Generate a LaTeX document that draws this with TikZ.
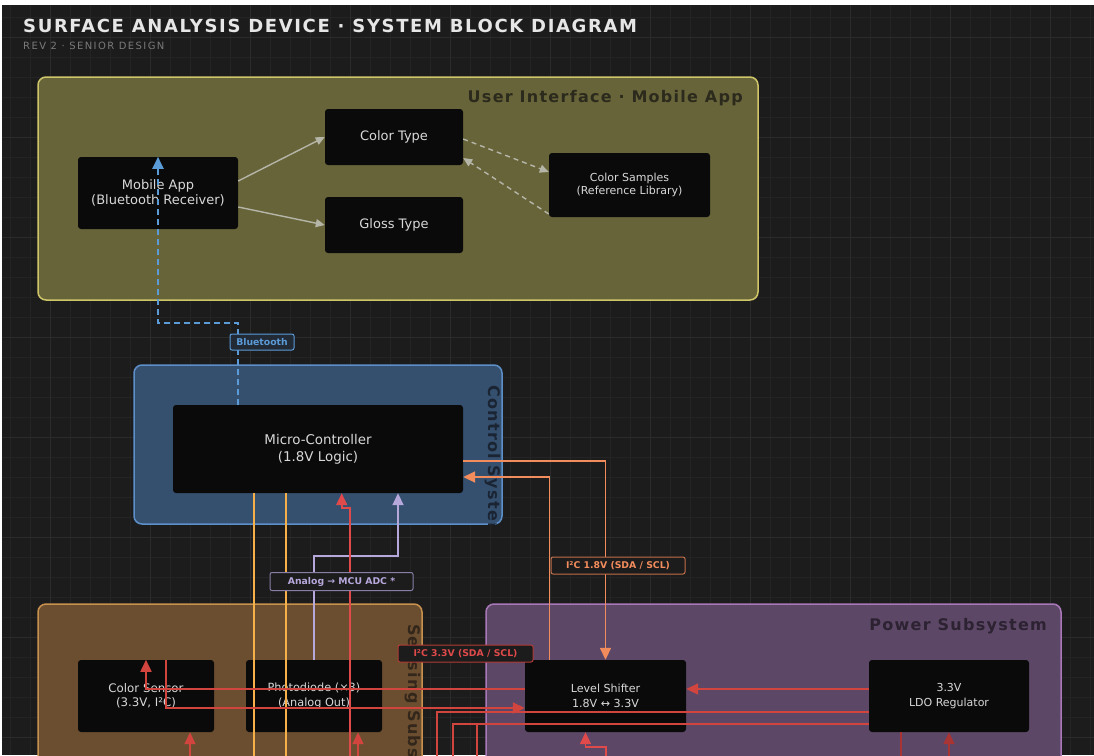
\documentclass[tikz,border=0pt]{standalone}
\usepackage{fontspec}
\setmainfont{DejaVu Sans}
\newfontfamily\titlefont{DejaVu Sans}[LetterSpace=9]
\newfontfamily\subfont{DejaVu Sans}[LetterSpace=14]
\newfontfamily\grpfont{DejaVu Sans}[LetterSpace=8]
\usetikzlibrary{arrows.meta,calc}
\definecolor{bgc}{HTML}{1C1C1C}
\definecolor{gridminor}{HTML}{242424}
\definecolor{gridmajor}{HTML}{2B2B2B}
\definecolor{titlec}{HTML}{E6E6E6}
\definecolor{subc}{HTML}{7A7A7A}
\definecolor{nodefill}{HTML}{0A0A0A}
\definecolor{nodetext}{HTML}{D8D8D8}
\definecolor{uifill}{HTML}{67643A}
\definecolor{uiborder}{HTML}{CFC66A}
\definecolor{uititle}{HTML}{2B2A1C}
\definecolor{ctlfill}{HTML}{35506F}
\definecolor{ctlborder}{HTML}{5D8FC9}
\definecolor{ctltitle}{HTML}{1A2433}
\definecolor{senfill}{HTML}{6B4E30}
\definecolor{senborder}{HTML}{C8914E}
\definecolor{sentitle}{HTML}{33261A}
\definecolor{pwrfill}{HTML}{5D4766}
\definecolor{pwrborder}{HTML}{A978B8}
\definecolor{pwrtitle}{HTML}{2C2232}
\definecolor{greyc}{HTML}{B5B5A8}
\definecolor{bluec}{HTML}{5B9BD8}
\definecolor{btfill}{HTML}{222A35}
\definecolor{orangec}{HTML}{F28C5C}
\definecolor{amberc}{HTML}{F5B04A}
\definecolor{lavc}{HTML}{B7A8DC}
\definecolor{redc}{HTML}{D2453F}
\definecolor{redbright}{HTML}{E04A4A}
\definecolor{reddark}{HTML}{A83434}
\tikzset{
  blk/.style={fill=nodefill, rounded corners=3pt, text=nodetext, align=center, inner sep=0pt},
  grpbox/.style={rounded corners=8pt, line width=1.5pt, inner sep=0pt},
  grptitle/.style={inner sep=0pt, font=\grpfont\bfseries\fontsize{16}{19}\selectfont},
  tipA/.style={-{Triangle[length=12pt,width=11pt]}},
  tipS/.style={-{Triangle[length=9pt,width=8pt]}},
  wire/.style={line width=1.8pt},
  lbl/.style={rounded corners=2pt, line width=1pt, inner sep=0pt, font=\bfseries\fontsize{9.3}{11}\selectfont},
}
\begin{document}
\begin{tikzpicture}[x=1pt,y=-1pt]
\useasboundingbox (0,0) rectangle (1094,755);
\fill[white] (0,0) rectangle (1094,755);
\fill[bgc] (2,5) rectangle (1094,755);
\foreach \x in {10,30,...,1090} \draw[gridminor, line width=0.7pt] (\x,5) -- (\x,755);
\foreach \y in {17,37,...,757} \draw[gridminor, line width=0.7pt] (2,\y) -- (1094,\y);
\foreach \x in {50,150,...,1050} \draw[gridmajor, line width=0.8pt] (\x,5) -- (\x,755);
\foreach \y in {37,137,...,737} \draw[gridmajor, line width=0.8pt] (2,\y) -- (1094,\y);

% titles
\node[anchor=base west, inner sep=0pt, text=titlec, font=\titlefont\bfseries\fontsize{18}{21}\selectfont] (title) at (23,32) {SURFACE ANALYSIS DEVICE · SYSTEM BLOCK DIAGRAM};
\node[anchor=base west, inner sep=0pt, text=subc, font=\subfont\fontsize{10}{12}\selectfont] (subtitle) at (23,49.5) {REV 2 · SENIOR DESIGN};

% groups
\node[grpbox, fill=uifill, draw=uiborder, minimum width=720pt, minimum height=223pt] (ui) at (398,188.5) {};
\node[grpbox, fill=ctlfill, draw=ctlborder, minimum width=368pt, minimum height=159pt] (ctl) at (318,444.5) {};
\node[grpbox, fill=senfill, draw=senborder, minimum width=384pt, minimum height=196pt] (sen) at (230,702) {};
\node[grpbox, fill=pwrfill, draw=pwrborder, minimum width=575pt, minimum height=196pt] (pwr) at (773.5,702) {};

\node[grptitle, anchor=base east, text=uititle] (uit) at (743,102) {User Interface · Mobile App};
\node[grptitle, anchor=base east, text=pwrtitle] (pwrt) at (1047,630) {Power Subsystem};
\begin{scope}
\clip[rounded corners=8pt] (134,365) rectangle (502,524);
\node[grptitle, anchor=base west, rotate=-90, text=ctltitle] (ctlt) at (488.5,385) {Control System};
\end{scope}
\node[grptitle, anchor=base west, rotate=-90, text=sentitle] (sent) at (408,624) {Sensing Subsystem};

% nodes
\node[blk, minimum width=160pt, minimum height=72pt, font=\fontsize{13}{15}\selectfont] (mob) at (158,193) {Mobile App\\(Bluetooth Receiver)};
\node[blk, minimum width=138pt, minimum height=56pt, font=\fontsize{13}{15}\selectfont] (ctype) at (394,137) {Color Type};
\node[blk, minimum width=138pt, minimum height=56pt, font=\fontsize{13}{15}\selectfont] (gtype) at (394,225) {Gloss Type};
\node[blk, minimum width=161pt, minimum height=64pt, font=\fontsize{11}{13}\selectfont] (csamp) at (629.5,185) {Color Samples\\(Reference Library)};
\node[blk, minimum width=290pt, minimum height=88pt, font=\fontsize{13.4}{17}\selectfont] (mcu) at (318,449) {Micro-Controller\\(1.8V Logic)};
\node[blk, minimum width=136pt, minimum height=72pt, font=\fontsize{11.8}{14.5}\selectfont] (csens) at (146,696) {Color Sensor\\(3.3V, I²C)};
\node[blk, minimum width=136pt, minimum height=72pt, font=\fontsize{11.3}{14.5}\selectfont] (photo) at (314,696) {Photodiode (×3)\\(Analog Out)};
\node[blk, minimum width=161pt, minimum height=72pt, font=\fontsize{11.1}{14.5}\selectfont] (lvl) at (605.5,696) {Level Shifter\\1.8V ↔ 3.3V};
\node[blk, minimum width=160pt, minimum height=72pt, font=\fontsize{11}{14.5}\selectfont] (ldo) at (949,696) {3.3V\\LDO Regulator};

% free ends below the picture
\coordinate (a1) at (254,760);
\coordinate (a2) at (286,760);
\coordinate (r1) at (350,760);
\coordinate (r2) at (358,760);
\coordinate (r3) at (190,760);
\coordinate (b1) at (437,760);
\coordinate (b2) at (453,760);
\coordinate (j1) at (477,724);
\coordinate (b3) at (477,760);
\coordinate (r4) at (606,760);
\coordinate (c1) at (901,760);
\coordinate (c2) at (949,760);

% UI connectors
\draw[greyc, line width=1.4pt, tipS] ([yshift=12pt]mob.east) -- (ctype.west);
\draw[greyc, line width=1.4pt, tipS] ([yshift=-14pt]mob.east) -- (gtype.west);
\draw[greyc, line width=1.4pt, tipS, dash pattern=on 5pt off 4pt] ([yshift=-2pt]ctype.east) -- ([yshift=13pt]csamp.west);
\draw[greyc, line width=1.4pt, tipS, dash pattern=on 5pt off 4pt] ([yshift=-29pt]csamp.west) -- ([yshift=-21pt]ctype.east);

% bluetooth
\draw[bluec, line width=2pt, tipA, dash pattern=on 6pt off 4pt] ([xshift=-80pt]mcu.north) -- ++(0,-82) -| (mob.north);

% orange I2C 1.8V
\draw[orangec, wire, tipA] ([yshift=-12pt]mcu.east) -| (lvl.north);
\draw[orangec, wire, tipA] ([xshift=-56pt]lvl.north) |- ([yshift=-28pt]mcu.east);

% amber
\draw[amberc, wire] ([xshift=-64pt]mcu.south) -- (a1);
\draw[amberc, wire] ([xshift=-32pt]mcu.south) -- (a2);

% lavender analog
\draw[lavc, wire, tipA] (photo.north) -- ++(0,-104) -| ([xshift=80pt]mcu.south);

% red into MCU
\draw[redbright, wire, tipA] (r1) -- ++(0,-252) -| ([xshift=23.7pt]mcu.south);

% sensing reds
\draw[redc, wire, tipA] (r2) -- ([xshift=44pt]photo.south);
\draw[redc, wire, tipA] (r3) -- ([xshift=44pt]csens.south);
\draw[redc, wire, tipA] ([yshift=7pt]lvl.west) -| (csens.north);
\draw[redc, wire, tipA] ([xshift=20pt]csens.north) |- ([yshift=-12pt]lvl.west);

% power reds
\draw[redc, wire, tipA] ([yshift=7pt]ldo.west) -- ([yshift=7pt]lvl.east);
\draw[redc, wire] ([yshift=-16pt]ldo.west) -| (b1);
\draw[redc, wire] ([yshift=-28pt]ldo.west) -| (b2);
\draw[redc, wire] (j1) -- (b3);
\draw[redbright, wire, tipA] (r4) -- ++(0,-13) -| ([xshift=-20pt]lvl.south);
\draw[reddark, wire] ([xshift=-48pt]ldo.south) -- (c1);
\draw[reddark, wire, tipA] (c2) -- (ldo.south);

% labels
\node[lbl, fill=btfill, draw=bluec, text=bluec, minimum width=64pt, minimum height=16pt] (lblbt) at (262,342) {Bluetooth};
\node[lbl, fill=bgc, draw=orangec!80!black, text=orangec, minimum width=134pt, minimum height=17pt] (lbli18) at (618,565.5) {I²C 1.8V (SDA / SCL)};
\node[lbl, fill=bgc, draw=lavc!75!black, text=lavc, minimum width=143pt, minimum height=18pt] (lblan) at (341.5,581.5) {Analog → MCU ADC *};
\node[lbl, fill=bgc, draw=redc!85!black, text=redbright, minimum width=135pt, minimum height=17pt] (lbli33) at (465.5,653.5) {I²C 3.3V (SDA / SCL)};
\end{tikzpicture}
\end{document}
